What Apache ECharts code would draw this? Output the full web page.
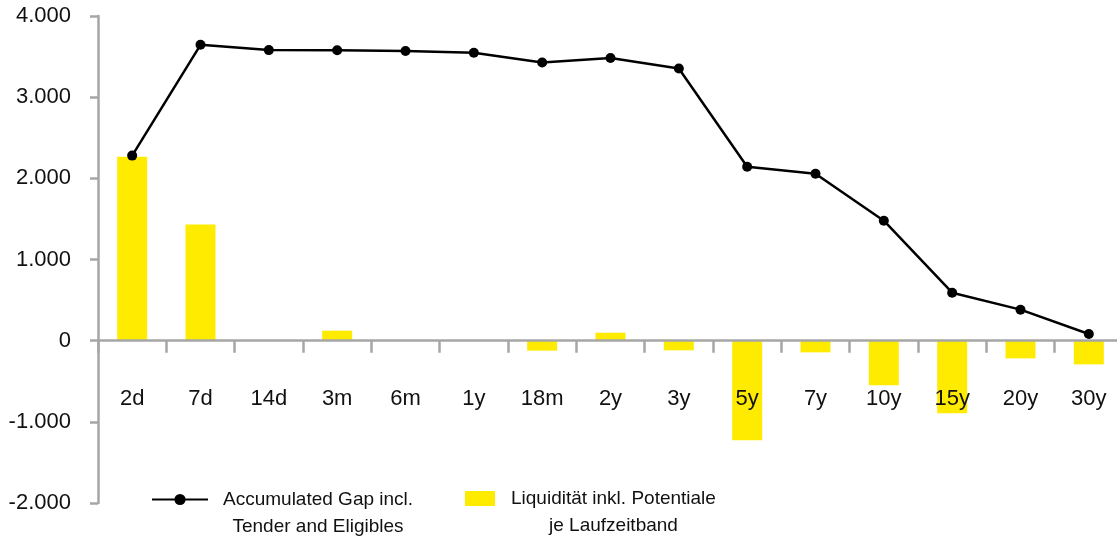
<!DOCTYPE html>
<html>
<head>
<meta charset="utf-8">
<script src="https://cdn.jsdelivr.net/npm/echarts@6/dist/echarts.min.js"></script>
<style>
  html, body { margin: 0; padding: 0; background: #fff; }
  #chart { width: 1117px; height: 537px; }
</style>
</head>
<body>
<div id="chart"></div>
<script>
// Maturity bands
const categories = ['2d', '7d', '14d', '3m', '6m', '1y', '18m', '2y', '3y', '5y', '7y', '10y', '15y', '20y', '30y'];
// Accumulated gap incl. tender and eligibles
const accumulatedGap = [2280, 3645, 3580, 3578, 3568, 3547, 3427, 3482, 3354, 2143, 2057, 1478, 591, 382, 82];
// Liquidity incl. potentials per maturity band
const liquidity = [2265, 1430, 0, 123, 0, 0, -123, 98, -119, -1228, -144, -550, -895, -218, -292];
// Value axis ticks
const yMin = -2000, yMax = 4000, yStep = 1000;

const FONT = '"Liberation Sans", Arial, Helvetica, sans-serif';
const AXIS_GREY = '#a6a6a6';
const YELLOW = '#ffeb00';

function fmtThousands(v) {
  if (v === 0) return '0';
  const sign = v < 0 ? '-' : '';
  const a = Math.abs(v);
  return sign + Math.floor(a / 1000) + '.' + String(a % 1000).padStart(3, '0');
}

const chart = echarts.init(document.getElementById('chart'), null, { renderer: 'canvas' });

chart.setOption({
  animation: false,
  backgroundColor: '#ffffff',
  textStyle: { fontFamily: FONT },
  grid: { left: 98, top: 16, width: 1025, height: 487, containLabel: false, outerBoundsMode: 'none' },
  legend: [
    {
      data: [{ name: 'Accumulated Gap incl. Tender and Eligibles' }],
      left: 151, top: 463, padding: 0,
      itemWidth: 56, itemHeight: 14,
      formatter: () => '{a| }\n{a|Accumulated Gap incl.}\n{a|Tender and Eligibles}',
      textStyle: {
        fontFamily: FONT, fontSize: 19, color: '#111', padding: [0, 0, 0, 10],
        rich: { a: { fontFamily: FONT, fontSize: 19, lineHeight: 27, align: 'center', color: '#111' } }
      }
    },
    {
      data: [{ name: 'Liquidität inkl. Potentiale je Laufzeitband', icon: 'rect' }],
      left: 465, top: 462, padding: 0,
      itemWidth: 30, itemHeight: 15,
      formatter: () => '{a| }\n{a|Liquidität inkl. Potentiale}\n{a|je Laufzeitband}',
      textStyle: {
        fontFamily: FONT, fontSize: 19, color: '#111', padding: [0, 0, 0, 11],
        rich: { a: { fontFamily: FONT, fontSize: 19, lineHeight: 27, align: 'center', color: '#111' } }
      }
    }
  ],
  xAxis: {
    type: 'category',
    data: categories,
    boundaryGap: true,
    z: 5,
    axisLine: { onZero: true, lineStyle: { color: AXIS_GREY, width: 2.5 } },
    axisTick: { show: true, alignWithLabel: false, interval: 0, length: 12, lineStyle: { color: AXIS_GREY, width: 2.5 } },
    // labels sit in the band below the zero line
    axisLabel: { interval: 0, margin: -115, fontSize: 22, color: '#111', fontFamily: FONT },
    splitLine: { show: false }
  },
  yAxis: {
    type: 'value',
    min: yMin, max: yMax, interval: yStep,
    z: 5,
    axisLine: { show: true, lineStyle: { color: AXIS_GREY, width: 2.5 } },
    axisTick: { show: true, length: 8, lineStyle: { color: AXIS_GREY, width: 2.5 } },
    axisLabel: { margin: 27, fontSize: 22, color: '#111', fontFamily: FONT, formatter: fmtThousands },
    splitLine: { show: false }
  },
  series: [
    {
      name: 'Liquidität inkl. Potentiale je Laufzeitband',
      type: 'bar',
      data: liquidity,
      barWidth: 30,
      itemStyle: { color: YELLOW },
      z: 2
    },
    {
      name: 'Accumulated Gap incl. Tender and Eligibles',
      type: 'line',
      data: accumulatedGap,
      symbol: 'circle',
      symbolSize: 10,
      lineStyle: { color: '#000', width: 2.5 },
      itemStyle: { color: '#000' },
      z: 6
    }
  ]
});
</script>
</body>
</html>
